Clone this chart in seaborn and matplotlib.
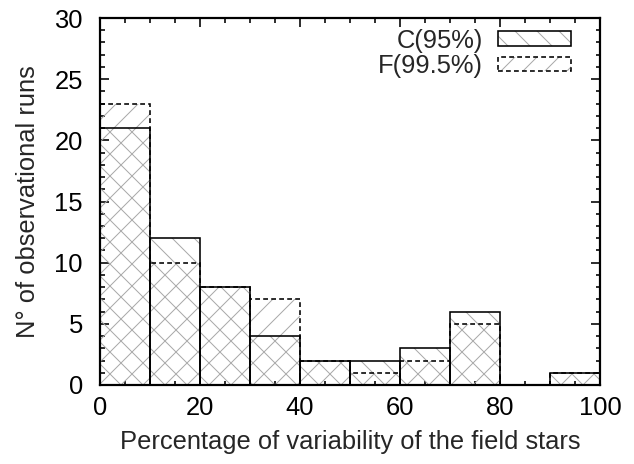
import matplotlib
matplotlib.use("Agg")
import matplotlib.pyplot as plt
import seaborn as sns
from matplotlib.patches import Patch
from matplotlib.legend_handler import HandlerTuple
from matplotlib.ticker import MultipleLocator

# Histogram counts per 10% bin of field-star variability
bin_edges = [0, 10, 20, 30, 40, 50, 60, 70, 80, 90, 100]
counts_c95 = [21, 12, 8, 4, 2, 2, 3, 6, 0, 1]
counts_f995 = [23, 10, 8, 7, 2, 1, 2, 5, 0, 1]
series_labels = ["C(95%)", "F(99.5%)"]
x_label = "Percentage of variability of the field stars"
y_label = "N° of observational runs"

DPI = 132
W, H = 634, 464


def px(v):
    """Convert pixels to points at the figure dpi."""
    return v * 72.0 / DPI


sns.set_theme(style="ticks")
plt.rcParams["font.family"] = ["Liberation Sans", "DejaVu Sans"]
plt.rcParams["hatch.linewidth"] = px(1.0)

fig = plt.figure(figsize=(W / DPI, H / DPI), dpi=DPI)
fig.patch.set_facecolor("white")
ax = fig.add_axes([100 / W, (H - 385) / H, 500 / W, (385 - 18) / H])

centers = [(a + b) / 2 for a, b in zip(bin_edges[:-1], bin_edges[1:])]
hatch_gray = "#a8a8a8"
dash = (0, (3, 2))

# Hatch layers (gray), drawn first
for counts, hatch in [(counts_f995, "//"), (counts_c95, "\\\\")]:
    sns.histplot(x=centers, weights=counts, bins=bin_edges, ax=ax,
                 fill=False, color=hatch_gray, linewidth=0, hatch=hatch)

# Outline layers: F dashed, then C solid on top
sns.histplot(x=centers, weights=counts_f995, bins=bin_edges, ax=ax,
             fill=False, color="black", linewidth=px(1.6), linestyle=dash)
sns.histplot(x=centers, weights=counts_c95, bins=bin_edges, ax=ax,
             fill=False, color="black", linewidth=px(1.6))

ax.set_xlim(0, 100)
ax.set_ylim(0, 30)
ax.xaxis.set_major_locator(MultipleLocator(20))
ax.xaxis.set_minor_locator(MultipleLocator(5))
ax.yaxis.set_major_locator(MultipleLocator(5))
ax.yaxis.set_minor_locator(MultipleLocator(1))

fs = px(25.5)
ax.tick_params(which="both", direction="in", top=True, right=True,
               width=px(1.6), colors="black", labelsize=fs)
ax.tick_params(which="major", length=px(9))
ax.tick_params(which="minor", length=px(4.5))
ax.tick_params(axis="y", which="major", pad=px(17))
ax.tick_params(axis="x", which="major", pad=px(11))

for sp in ax.spines.values():
    sp.set_linewidth(px(2.2))
    sp.set_color("black")
    sp.set_visible(True)

ax.set_xlabel(x_label, fontsize=fs, labelpad=px(10))
ax.set_ylabel(y_label, fontsize=fs, labelpad=px(14))


def legend_key(hatch, ls):
    shade = Patch(facecolor="white", edgecolor=hatch_gray, hatch=hatch,
                  linewidth=0)
    frame = Patch(facecolor="none", edgecolor="black", linewidth=px(1.6),
                  linestyle=ls)
    return (shade, frame)


handles = [legend_key("\\\\", "-"), legend_key("//", dash)]
leg = ax.legend(handles=handles, labels=series_labels,
                handler_map={tuple: HandlerTuple(ndivide=1, pad=0)},
                loc="upper right", bbox_to_anchor=(0.942, 0.971),
                frameon=False, markerfirst=False, fontsize=fs,
                handlelength=2.86, handleheight=0.5, handletextpad=0.6,
                labelspacing=0.05, borderaxespad=0, borderpad=0)
for t in leg.get_texts():
    t.set_ha("right")

fig.savefig("out.png", dpi=DPI, facecolor="white")
